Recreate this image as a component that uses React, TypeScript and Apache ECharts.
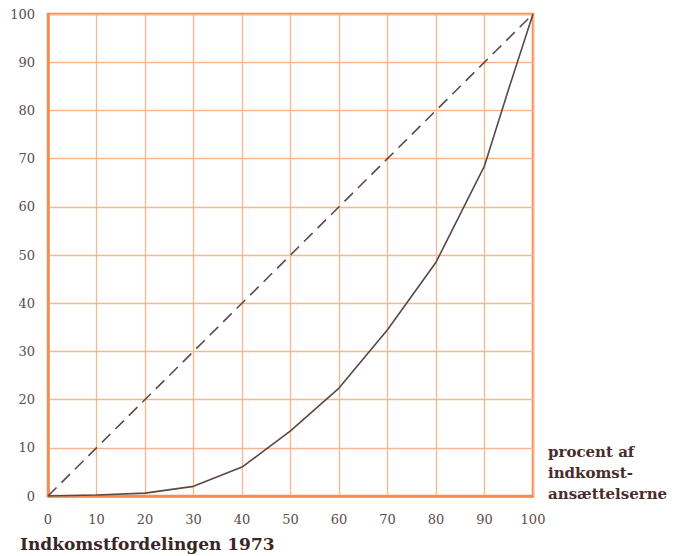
import React, { useEffect, useRef } from "react";
import * as echarts from "echarts";

const xValues = [0, 10, 20, 30, 40, 50, 60, 70, 80, 90, 95, 100];
const incomeShare = [0, 0.2, 0.6, 2, 6, 13.5, 22.4, 34.5, 48.5, 68.5, 84.5, 100];
const equalityX = [0, 100];
const equalityY = [0, 100];
const title = "Indkomstfordelingen 1973";
const axisNote = ["procent af", "indkomst-", "ansættelserne"];

export default function App() {
  const ref = useRef<HTMLDivElement>(null);
  useEffect(() => {
    if (!ref.current) return;
    const chart = echarts.init(ref.current, null, { renderer: "svg" });
    const labelStyle = {
      color: "#5b4d4a",
      fontFamily: "DejaVu Serif, Liberation Serif, serif",
      fontSize: 13,
    };
    chart.setOption({
      animation: false,
      backgroundColor: "#ffffff",
      grid: {
        left: 48,
        right: 142,
        top: 14,
        bottom: 60,
        show: true,
        borderColor: "#f28c4e",
        borderWidth: 2.5,
      },
      xAxis: {
        type: "value",
        min: 0,
        max: 100,
        interval: 10,
        axisLine: { show: true, lineStyle: { color: "#f28c4e", width: 2.5 } },
        axisTick: { show: false },
        splitLine: { show: true, lineStyle: { color: "#f7b68c", width: 1.3 } },
        axisLabel: { ...labelStyle, margin: 17 },
      },
      yAxis: {
        type: "value",
        min: 0,
        max: 100,
        interval: 10,
        axisLine: { show: true, lineStyle: { color: "#f28c4e", width: 2.5 } },
        axisTick: { show: false },
        splitLine: { show: true, lineStyle: { color: "#f7b68c", width: 1.3 } },
        axisLabel: { ...labelStyle, margin: 13 },
      },
      series: [
        {
          type: "line",
          data: equalityX.map((x, i) => [x, equalityY[i]]),
          symbol: "none",
          lineStyle: { color: "#5e4a48", width: 1.6, type: [12, 7] },
          z: 3,
        },
        {
          type: "line",
          data: xValues.map((x, i) => [x, incomeShare[i]]),
          symbol: "none",
          lineStyle: { color: "#5a4846", width: 1.6 },
          z: 4,
        },
      ],
      graphic: [
        {
          type: "text",
          left: 20,
          top: 535,
          style: {
            text: title,
            fill: "#3a2626",
            font: "bold 17px DejaVu Serif, Liberation Serif, serif",
          },
        },
        {
          type: "text",
          left: 548,
          top: 441,
          style: {
            text: axisNote.join("\n"),
            fill: "#4a2c2c",
            font: "bold 15px DejaVu Serif, Liberation Serif, serif",
            lineHeight: 21,
          },
        },
      ],
    });
    return () => chart.dispose();
  }, []);
  return <div ref={ref} style={{ width: 675, height: 556, position: "absolute", left: 0, top: 0 }} />;
}
